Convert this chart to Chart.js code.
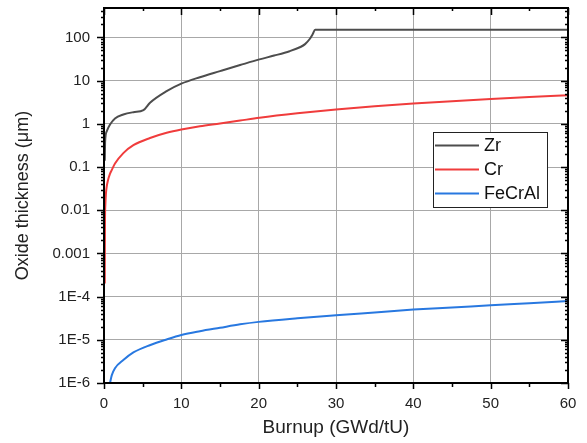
<!DOCTYPE html>
<html>
<head>
<meta charset="utf-8">
<script src="https://cdn.jsdelivr.net/npm/chart.js@4.4.1/dist/chart.umd.min.js"></script>
<style>
  body { margin: 0; background: #fff; }
  #wrap { width: 587px; height: 443px; }
</style>
</head>
<body>
<div id="wrap"><canvas id="chart" width="587" height="443"></canvas></div>
<script>
// --- Values ---
const zrBurnup = [0.1, 0.15, 0.35, 0.78, 1.42, 2.5, 3.8, 5.1, 5.95, 8.1, 10, 12.4, 15, 17.6, 20.1, 22, 24, 25.4, 26, 26.6, 27, 27.3, 40, 60];
const zrOxide = [0.14, 0.4, 0.67, 0.96, 1.33, 1.64, 1.86, 2.07, 3.07, 5.7, 8.5, 12, 16.6, 22.9, 31, 38, 48, 60, 70, 92, 120, 150, 150, 150];

const crBurnup = [0.1, 0.11, 0.13, 0.18, 0.25, 0.35, 0.5, 0.78, 1.0, 1.42, 2.5, 3.8, 5.95, 8.1, 10, 12.4, 15, 17.6, 20.1, 25, 30, 35, 40, 45, 50, 55, 60];
const crOxide = [2e-4, 0.0012, 0.006, 0.014, 0.024, 0.035, 0.048, 0.07, 0.085, 0.12, 0.21, 0.32, 0.47, 0.62, 0.74, 0.88, 1.02, 1.19, 1.38, 1.75, 2.15, 2.55, 2.95, 3.35, 3.75, 4.15, 4.6];

const fecralBurnup = [0.78, 1.0, 1.42, 2.5, 3.8, 6, 8.1, 10, 12.4, 15, 17.6, 20, 25, 30, 35, 40, 45, 50, 55, 60];
const fecralOxide = [1.0e-6, 1.5e-6, 2.2e-6, 3.4e-6, 5.1e-6, 7.6e-6, 1.02e-5, 1.29e-5, 1.58e-5, 1.9e-5, 2.28e-5, 2.6e-5, 3.15e-5, 3.7e-5, 4.3e-5, 5.0e-5, 5.6e-5, 6.3e-5, 7.05e-5, 7.9e-5];

const seriesNames = ['Zr', 'Cr', 'FeCrAl'];
const seriesColors = ['#4d4d4d', '#f03c3c', '#2878e0'];

const xTicks = [0, 10, 20, 30, 40, 50, 60];
const yTicks = [1e-6, 1e-5, 1e-4, 0.001, 0.01, 0.1, 1, 10, 100];
const yTickLabels = ['1E-6', '1E-5', '1E-4', '0.001', '0.01', '0.1', '1', '10', '100'];

const FONT = 'Arial, "Liberation Sans", sans-serif';
const pts = (xs, ys) => xs.map((v, i) => ({ x: v, y: ys[i] }));

// --- Frame, Origin-style tick marks and boxed legend ---
const frame = {
  id: 'frame',
  afterDatasetsDraw(chart) {
    const { ctx, chartArea: a, scales: { x, y } } = chart;
    ctx.save();
    ctx.strokeStyle = '#000';
    ctx.lineWidth = 1.5;
    ctx.beginPath();
    for (let v = 0; v <= 60; v += 5) {
      const px = Math.round(x.getPixelForValue(v)) + 0.5;
      const major = v % 10 === 0;
      ctx.moveTo(px, a.bottom); ctx.lineTo(px, a.bottom + (major ? 6 : 4));
      ctx.moveTo(px, a.top); ctx.lineTo(px, a.top + (major ? 7 : 3));
    }
    for (let d = -6; d <= 2; d++) {
      for (let m = 1; m <= 9; m++) {
        const v = m * Math.pow(10, d);
        if (v > y.max) continue;
        const py = Math.round(y.getPixelForValue(v)) + 0.5;
        const len = m === 1 ? 7 : 3;
        ctx.moveTo(a.left - len, py); ctx.lineTo(a.left, py);
        ctx.moveTo(a.right, py); ctx.lineTo(a.right - len, py);
      }
    }
    ctx.stroke();
    ctx.lineWidth = 2;
    ctx.strokeRect(a.left, a.top, a.right - a.left, a.bottom - a.top);

    // legend
    ctx.lineWidth = 1;
    ctx.strokeStyle = '#222';
    ctx.fillStyle = '#fff';
    ctx.fillRect(433.5, 132.5, 114, 75);
    ctx.strokeRect(433.5, 132.5, 114, 75);
    ctx.font = '18px ' + FONT;
    ctx.textBaseline = 'middle';
    const rows = [145.5, 169.5, 193.5];
    chart.data.datasets.forEach((ds, i) => {
      ctx.strokeStyle = ds.borderColor;
      ctx.lineWidth = 2;
      ctx.beginPath();
      ctx.moveTo(435, rows[i]); ctx.lineTo(479, rows[i]);
      ctx.stroke();
      ctx.fillStyle = '#111';
      ctx.fillText(ds.label, 484, rows[i] + 1);
    });
    ctx.restore();
  }
};

new Chart(document.getElementById('chart'), {
  type: 'line',
  data: {
    datasets: [
      { label: seriesNames[0], data: pts(zrBurnup, zrOxide), borderColor: seriesColors[0], borderWidth: 2, pointRadius: 0, cubicInterpolationMode: 'monotone' },
      { label: seriesNames[1], data: pts(crBurnup, crOxide), borderColor: seriesColors[1], borderWidth: 2, pointRadius: 0, cubicInterpolationMode: 'monotone' },
      { label: seriesNames[2], data: pts(fecralBurnup, fecralOxide), borderColor: seriesColors[2], borderWidth: 2, pointRadius: 0, cubicInterpolationMode: 'monotone' }
    ]
  },
  options: {
    responsive: false,
    animation: false,
    layout: { padding: { top: 8, right: 19, left: 0, bottom: 0 } },
    plugins: { legend: { display: false }, tooltip: { enabled: false } },
    scales: {
      x: {
        type: 'linear', min: 0, max: 60,
        afterBuildTicks: s => { s.ticks = xTicks.map(v => ({ value: v })); },
        afterFit: s => { s.height = 60; s.paddingLeft = 0; s.paddingRight = 0; },
        grid: { color: '#a8a8a8', lineWidth: 1, drawTicks: false },
        border: { display: false },
        ticks: { padding: 12, color: '#222', font: { family: FONT, size: 15 } },
        title: { display: true, text: 'Burnup (GWd/tU)', color: '#222', font: { family: FONT, size: 19 }, padding: { top: 0 } }
      },
      y: {
        type: 'logarithmic', min: 1e-6, max: 480,
        afterBuildTicks: s => { s.ticks = yTicks.map(v => ({ value: v })); },
        afterFit: s => { s.width = 104; s.paddingTop = 0; s.paddingBottom = 0; },
        grid: { color: '#a8a8a8', lineWidth: 1, drawTicks: false },
        border: { display: false },
        ticks: { callback: (v, i) => yTickLabels[i], padding: 14, color: '#222', font: { family: FONT, size: 15 } },
        title: { display: true, text: 'Oxide thickness (μm)', color: '#222', font: { family: FONT, size: 18 }, padding: { top: 12 } }
      }
    }
  },
  plugins: [frame]
});
</script>
</body>
</html>
